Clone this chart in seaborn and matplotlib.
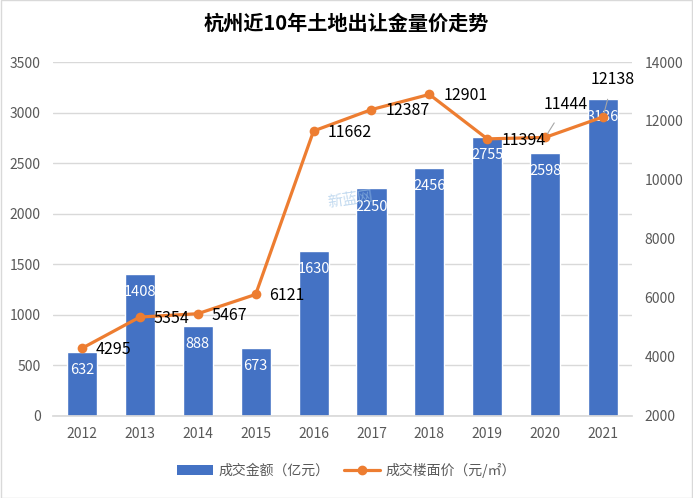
import numpy as np
import pandas as pd
import matplotlib
matplotlib.use('Agg')
import matplotlib.pyplot as plt
import seaborn as sns
from matplotlib.patches import Rectangle
from matplotlib.lines import Line2D
from matplotlib.patches import Patch

years = ['2012', '2013', '2014', '2015', '2016', '2017', '2018', '2019', '2020', '2021']
amount = [632, 1408, 888, 673, 1630, 2250, 2456, 2755, 2598, 3136]
price = [4295, 5354, 5467, 6121, 11662, 12387, 12901, 11394, 11444, 12138]

title = '杭州近10年土地出让金量价走势'
bar_name = '成交金额（亿元）'
line_name = '成交楼面价（元/㎡）'

sns.set_theme(style='white')
plt.rcParams['font.family'] = ['Noto Sans CJK SC', 'DejaVu Sans']

bar_c = '#4472C4'
line_c = '#ED7D31'
grid_c = '#D9D9D9'
tick_c = '#595959'

df = pd.DataFrame({'year': years, 'amount': amount, 'price': price})

fig = plt.figure(figsize=(6.93, 4.98), dpi=100)
ax = fig.add_axes([0.0765, 0.1647, 0.8355, 0.7108])

sns.barplot(data=df, x='year', y='amount', color=bar_c, width=0.52,
            saturation=1, ax=ax, zorder=2)
ax.set_ylim(0, 3500)
ax.set_yticks(range(0, 3501, 500))
ax.set_xlim(-0.5, len(years) - 0.5)
ax.set_xlabel('')
ax.set_ylabel('')
ax.yaxis.grid(True, color=grid_c, linewidth=1)
ax.set_axisbelow(True)
for s in ['top', 'left', 'right']:
    ax.spines[s].set_visible(False)
ax.spines['bottom'].set_color(grid_c)
ax.tick_params(axis='both', length=0, colors=tick_c, labelsize=10)
ax.tick_params(axis='y', pad=9)
ax.tick_params(axis='x', pad=8)

# bar labels inside end
for i, v in enumerate(amount):
    ax.annotate(str(v), (i, v), xytext=(0, -8), textcoords='offset points',
                ha='center', va='top', color='white', fontsize=10.5, zorder=5)

ax2 = ax.twinx()
idx = np.arange(len(years))
sns.lineplot(x=idx, y=price, ax=ax2, color=line_c, linewidth=2.3,
             marker='o', markersize=7, markeredgewidth=0, zorder=3)
ax2.set_ylim(2000, 14000)
ax2.set_yticks(range(2000, 14001, 2000))
ax2.set_xlim(-0.5, len(years) - 0.5)
for s in ['top', 'left', 'right', 'bottom']:
    ax2.spines[s].set_visible(False)
ax2.tick_params(axis='y', length=0, colors=tick_c, labelsize=10, pad=9)

# line labels
for i, v in enumerate(price):
    if i == 8:
        ax2.annotate(str(v), (i, v), xytext=(15, 24), textcoords='offset points',
                     ha='center', va='center', color='black', fontsize=11.5,
                     arrowprops=dict(arrowstyle='-', color='#A6A6A6', lw=0.8,
                                     shrinkA=6, shrinkB=3))
    elif i == 9:
        ax2.annotate(str(v), (i, v), xytext=(7, 27), textcoords='offset points',
                     ha='center', va='center', color='black', fontsize=11.5,
                     arrowprops=dict(arrowstyle='-', color='#A6A6A6', lw=0.8,
                                     shrinkA=6, shrinkB=3))
    else:
        ax2.annotate(str(v), (i, v), xytext=(10, -1), textcoords='offset points',
                     ha='left', va='center', color='black', fontsize=11.5)

# faint watermark
fig.text(0.505, 0.6, '新蓝网', color='#9DC3E6', alpha=0.6, fontsize=11,
         ha='center', va='center', rotation=8)

fig.text(0.5, 0.953, title, ha='center', va='center', fontsize=14.5,
         fontweight='bold', color='black')

handles = [Patch(facecolor=bar_c, edgecolor='none'),
           Line2D([0], [0], color=line_c, lw=2.3, marker='o', markersize=6)]
fig.legend(handles, [bar_name, line_name], loc='center', ncol=2,
           bbox_to_anchor=(0.5, 0.056), frameon=False, fontsize=10,
           labelcolor=tick_c, handlelength=2.6, columnspacing=1.0,
           handletextpad=0.4)

fig.add_artist(Rectangle((0.001, 0.001), 0.998, 0.998, transform=fig.transFigure,
                         fill=False, edgecolor='#D9D9D9', lw=1))

fig.savefig('out.png', dpi=100)
